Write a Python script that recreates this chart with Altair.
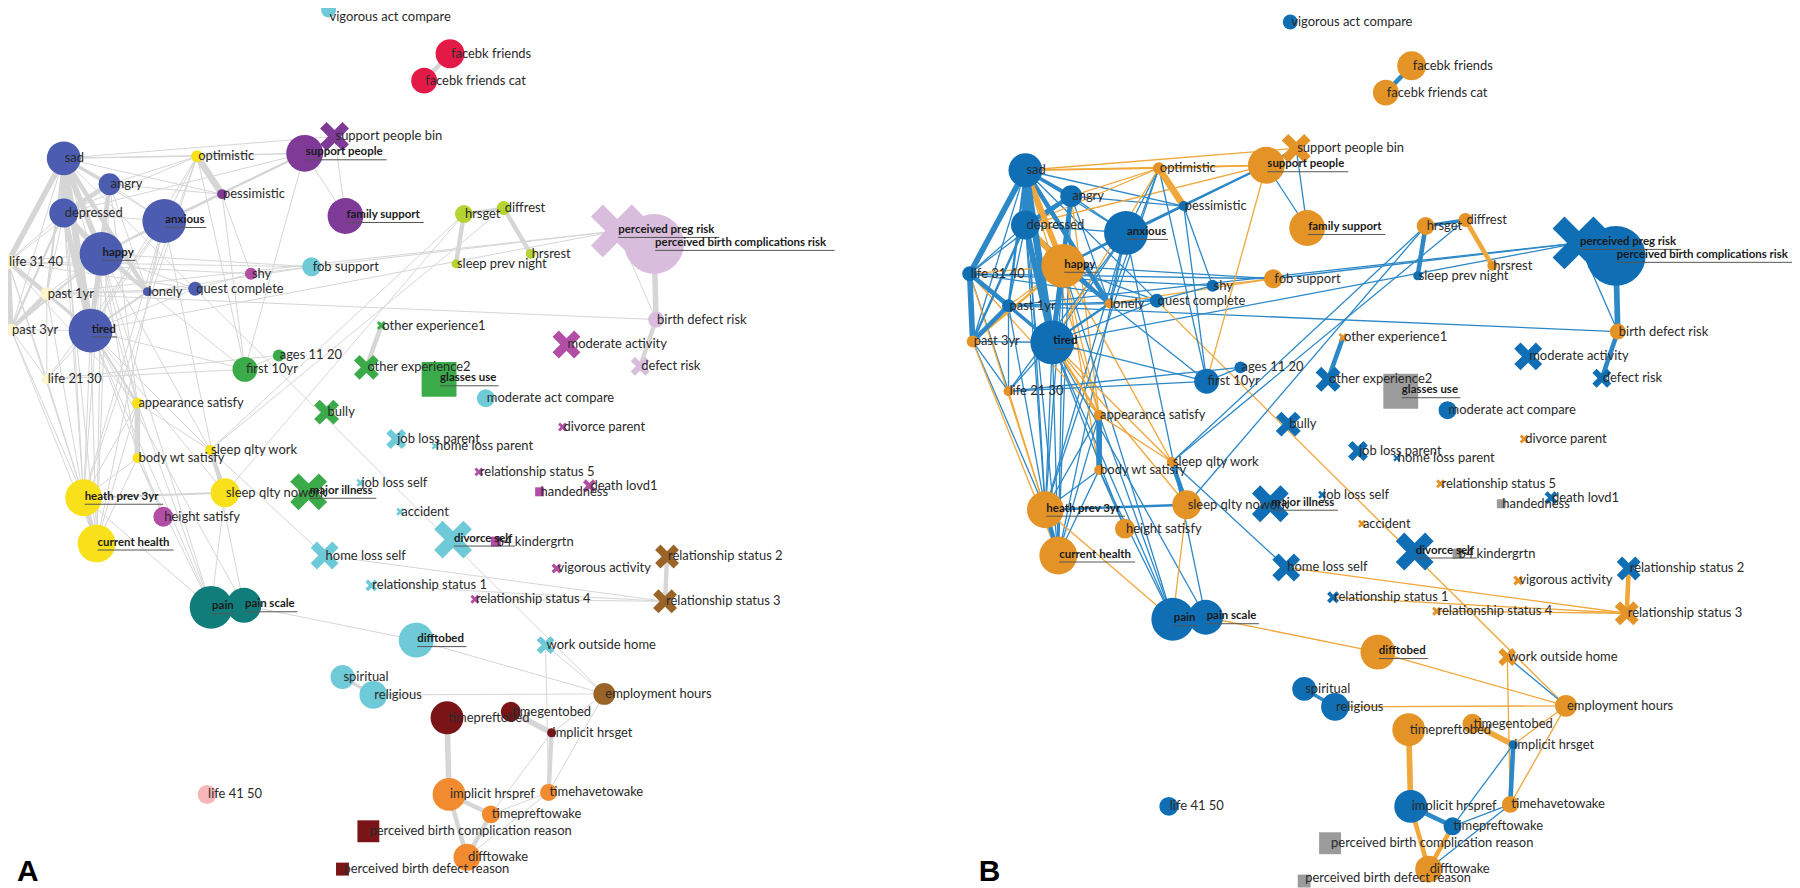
import altair as alt
import pandas as pd

# ---------------- node data (layout coordinates of the network) ----------------
node_name = [
    "vigorous act compare", "facebk friends", "facebk friends cat", "support people bin", "support people",
    "sad", "optimistic", "angry", "pessimistic", "depressed", "anxious", "family support", "happy",
    "life 31 40", "fob support", "shy", "lonely", "quest complete", "past 1yr", "past 3yr", "tired",
    "other experience1", "ages 11 20", "first 10yr", "other experience2", "glasses use", "life 21 30",
    "appearance satisfy", "bully", "hrsget", "diffrest", "hrsrest", "sleep prev night",
    "perceived preg risk", "perceived birth complications risk", "birth defect risk", "moderate activity",
    "defect risk", "moderate act compare", "divorce parent", "job loss parent", "home loss parent",
    "relationship status 5", "death lovd1", "handedness", "major illness", "job loss self", "accident",
    "divorce self", "b4 kindergrtn", "home loss self", "vigorous activity", "relationship status 1",
    "relationship status 4", "relationship status 2", "relationship status 3", "sleep qlty work",
    "body wt satisfy", "sleep qlty nowork", "heath prev 3yr", "height satisfy", "current health", "pain",
    "pain scale", "difftobed", "work outside home", "spiritual", "religious", "employment hours",
    "timepreftobed", "timegentobed", "implicit hrsget", "life 41 50", "implicit hrspref", "timehavetowake",
    "timepreftowake", "difftowake", "perceived birth complication reason", "perceived birth defect reason",
]
layout_x = [
    330, 452, 426, 336, 306,
    64, 198, 110, 223, 64, 165, 347, 102,
    8, 313, 252, 148, 196, 47, 11, 91,
    383, 280, 246, 368, 441, 47,
    138, 328, 466, 506, 533, 458,
    620, 657, 659, 569,
    643, 488, 565, 398, 437,
    481, 592, 542, 310, 362, 402,
    455, 498, 326, 559, 373,
    477, 670, 668, 211,
    138, 226, 84, 164, 97, 212,
    245, 418, 548, 344, 375, 607,
    449, 513, 554, 208, 451, 551,
    493, 469, 370, 344,
]
layout_y = [
    8, 52, 79, 135, 152,
    157, 155, 183, 193, 212, 220, 215, 253,
    261, 266, 273, 291, 288, 293, 329, 330,
    325, 355, 369, 367, 379, 379,
    403, 412, 213, 207, 253, 263,
    230, 243, 319, 344,
    366, 398, 427, 439, 446,
    472, 486, 492, 492, 483, 512,
    540, 542, 556, 569, 586,
    600, 557, 602, 450,
    458, 493, 498, 517, 544, 608,
    606, 641, 646, 678, 696, 695,
    719, 713, 734, 796, 796, 794,
    816, 859, 833, 871,
]
node_weight = [
    15, 29, 26, 29, 37,
    34, 12, 22, 10, 29, 44, 36, 44,
    15, 19, 12, 9, 14, 13, 12, 44,
    9, 12, 25, 25, 35, 10,
    11, 25, 18, 14, 10, 9,
    53, 60, 16, 28,
    19, 18, 9, 20, 7,
    9, 13, 9, 37, 8, 8,
    38, 10, 28, 10, 12,
    9, 24, 24, 10,
    10, 29, 37, 20, 38, 43,
    35, 35, 18, 24, 28, 22,
    33, 20, 9, 19, 33, 17,
    18, 27, 22, 13,
]
node_kind = [
    "c", "c", "c", "x", "c",
    "c", "c", "c", "c", "c", "c", "c", "c",
    "c", "c", "c", "c", "c", "c", "c", "c",
    "x", "c", "c", "x", "s", "c",
    "c", "x", "c", "c", "c", "c",
    "x", "c", "c", "x",
    "x", "c", "x", "x", "x",
    "x", "x", "s", "x", "x", "x",
    "x", "s", "x", "x", "x",
    "x", "x", "x", "c",
    "c", "c", "c", "c", "c", "c",
    "c", "c", "x", "c", "c", "c",
    "c", "c", "c", "c", "c", "c",
    "c", "c", "s", "s",
]
node_community = [
    "lblue", "red", "red", "purple", "purple",
    "blue", "yellow", "blue", "purple", "blue", "blue", "purple", "blue",
    "pale", "lblue", "magenta", "blue", "blue", "pale", "pale", "blue",
    "green", "green", "green", "green", "green", "pale",
    "yellow", "green", "ygreen", "ygreen", "ygreen", "ygreen",
    "lav", "lav", "lav", "magenta",
    "lav", "lblue", "magenta", "lblue", "lblue",
    "magenta", "magenta", "magenta", "green", "lblue", "lblue",
    "lblue", "magenta", "lblue", "magenta", "lblue",
    "magenta", "brown", "brown", "yellow",
    "yellow", "yellow", "yellow", "magenta", "yellow", "teal",
    "teal", "lblue", "lblue", "lblue", "lblue", "brown",
    "dred", "dred", "dred", "pink", "orange", "orange",
    "orange", "orange", "dred", "dred",
]
node_sign = [
    "p", "n", "n", "n", "n",
    "p", "n", "p", "p", "p", "p", "n", "n",
    "p", "n", "p", "n", "p", "p", "n", "p",
    "n", "p", "p", "p", "z", "n",
    "n", "p", "n", "n", "n", "p",
    "p", "p", "n", "p",
    "p", "p", "n", "p", "p",
    "n", "p", "z", "p", "p", "n",
    "p", "z", "p", "n", "p",
    "n", "p", "n", "n",
    "n", "n", "n", "n", "n", "p",
    "p", "n", "n", "p", "p", "n",
    "n", "n", "p", "p", "p", "n",
    "p", "n", "z", "z",
]
key_nodes = [
    "support people", "anxious", "family support", "happy", "tired", "glasses use",
    "perceived preg risk", "perceived birth complications risk", "major illness", "divorce self",
    "heath prev 3yr", "current health", "pain", "pain scale", "difftobed",
]

# ---------------- edges: (source, target, strength, sign) ----------------
edges = [
    ("sad", "depressed", 6, "p"), ("sad", "tired", 6, "p"), ("sad", "life 31 40", 5, "p"),
    ("sad", "happy", 5, "n"), ("sad", "angry", 3, "p"), ("sad", "lonely", 4, "p"),
    ("sad", "past 1yr", 2, "p"), ("sad", "past 3yr", 1, "p"), ("sad", "anxious", 1, "p"),
    ("sad", "pessimistic", 1, "p"), ("sad", "optimistic", 1, "n"), ("sad", "support people", 1, "n"),
    ("sad", "support people bin", 1, "n"), ("sad", "quest complete", 1, "p"),
    ("sad", "appearance satisfy", 1, "n"), ("sad", "heath prev 3yr", 1, "p"),
    ("angry", "depressed", 4, "p"), ("angry", "tired", 4, "p"), ("angry", "happy", 2, "n"),
    ("angry", "anxious", 1, "p"), ("angry", "pessimistic", 1, "p"), ("angry", "optimistic", 1, "n"),
    ("angry", "lonely", 1, "p"), ("angry", "life 31 40", 1, "p"), ("angry", "appearance satisfy", 1, "n"),
    ("angry", "current health", 1, "p"),
    ("depressed", "happy", 5, "n"), ("depressed", "tired", 5, "p"), ("depressed", "life 31 40", 1, "p"),
    ("depressed", "past 1yr", 1, "p"), ("depressed", "past 3yr", 2, "p"), ("depressed", "anxious", 1, "p"),
    ("depressed", "optimistic", 1, "n"), ("depressed", "support people", 1, "n"),
    ("depressed", "lonely", 2, "p"), ("depressed", "heath prev 3yr", 1, "p"),
    ("depressed", "current health", 1, "p"),
    ("anxious", "happy", 2, "p"), ("anxious", "support people", 2, "p"), ("anxious", "pessimistic", 1, "p"),
    ("anxious", "optimistic", 1, "p"), ("anxious", "tired", 1, "p"), ("anxious", "lonely", 1, "p"),
    ("anxious", "heath prev 3yr", 1, "p"), ("anxious", "current health", 1, "p"),
    ("anxious", "life 21 30", 1, "p"), ("anxious", "pain scale", 1, "p"),
    ("happy", "tired", 4, "p"), ("happy", "lonely", 3, "p"), ("happy", "life 31 40", 1, "n"),
    ("happy", "past 1yr", 1, "n"), ("happy", "past 3yr", 2, "n"), ("happy", "quest complete", 1, "p"),
    ("happy", "fob support", 1, "p"), ("happy", "pessimistic", 1, "p"), ("happy", "appearance satisfy", 1, "n"),
    ("happy", "body wt satisfy", 1, "n"), ("happy", "heath prev 3yr", 1, "p"),
    ("happy", "current health", 1, "p"), ("happy", "pain", 1, "p"), ("happy", "sleep qlty work", 1, "n"),
    ("life 31 40", "past 1yr", 4, "p"), ("life 31 40", "past 3yr", 5, "p"), ("life 31 40", "life 21 30", 1, "p"),
    ("life 31 40", "tired", 1, "p"), ("life 31 40", "quest complete", 1, "p"), ("life 31 40", "shy", 1, "p"),
    ("life 31 40", "fob support", 1, "p"), ("life 31 40", "heath prev 3yr", 1, "n"),
    ("life 31 40", "appearance satisfy", 1, "n"),
    ("past 1yr", "past 3yr", 4, "p"), ("past 1yr", "tired", 3, "p"), ("past 1yr", "life 21 30", 1, "p"),
    ("past 1yr", "quest complete", 1, "p"), ("past 1yr", "birth defect risk", 1, "p"),
    ("past 1yr", "perceived preg risk", 1, "p"), ("past 1yr", "lonely", 1, "p"),
    ("past 1yr", "heath prev 3yr", 1, "p"),
    ("past 3yr", "tired", 1, "p"), ("past 3yr", "life 21 30", 1, "p"), ("past 3yr", "heath prev 3yr", 1, "p"),
    ("past 3yr", "current health", 1, "n"),
    ("tired", "lonely", 2, "p"), ("tired", "quest complete", 1, "p"), ("tired", "appearance satisfy", 2, "n"),
    ("tired", "heath prev 3yr", 1, "p"), ("tired", "current health", 1, "p"), ("tired", "pain", 1, "p"),
    ("tired", "pain scale", 1, "p"), ("tired", "sleep qlty work", 1, "n"), ("tired", "sleep qlty nowork", 1, "n"),
    ("tired", "first 10yr", 1, "p"), ("tired", "perceived preg risk", 1, "p"), ("tired", "life 21 30", 1, "p"),
    ("tired", "height satisfy", 1, "p"),
    ("lonely", "quest complete", 1, "p"), ("lonely", "fob support", 1, "n"), ("lonely", "first 10yr", 1, "p"),
    ("quest complete", "shy", 1, "p"), ("quest complete", "employment hours", 1, "n"),
    ("shy", "fob support", 1, "n"), ("shy", "pessimistic", 1, "p"),
    ("optimistic", "pessimistic", 6, "n"), ("optimistic", "support people", 1, "n"),
    ("optimistic", "heath prev 3yr", 1, "p"), ("optimistic", "lonely", 1, "p"), ("optimistic", "tired", 1, "n"),
    ("optimistic", "first 10yr", 1, "p"),
    ("pessimistic", "support people", 1, "p"), ("pessimistic", "first 10yr", 1, "p"),
    ("support people", "family support", 1, "p"), ("support people bin", "family support", 1, "p"),
    ("support people", "support people bin", 2, "p"), ("support people", "first 10yr", 1, "n"),
    ("first 10yr", "ages 11 20", 1, "p"), ("first 10yr", "life 21 30", 1, "p"), ("ages 11 20", "life 21 30", 1, "p"),
    ("life 21 30", "heath prev 3yr", 1, "n"),
    ("fob support", "perceived preg risk", 1, "p"),
    ("appearance satisfy", "body wt satisfy", 5, "p"), ("appearance satisfy", "heath prev 3yr", 1, "p"),
    ("appearance satisfy", "current health", 1, "p"), ("appearance satisfy", "sleep qlty work", 1, "n"),
    ("appearance satisfy", "pain", 1, "p"),
    ("body wt satisfy", "heath prev 3yr", 1, "p"), ("body wt satisfy", "current health", 1, "p"),
    ("body wt satisfy", "pain", 1, "p"), ("body wt satisfy", "height satisfy", 1, "p"),
    ("sleep qlty work", "sleep qlty nowork", 4, "p"), ("sleep qlty work", "hrsget", 1, "p"),
    ("sleep qlty work", "diffrest", 1, "p"), ("sleep qlty work", "home loss self", 1, "p"),
    ("sleep qlty nowork", "hrsget", 1, "p"), ("sleep qlty nowork", "heath prev 3yr", 2, "p"),
    ("sleep qlty nowork", "pain", 1, "n"),
    ("heath prev 3yr", "current health", 4, "p"), ("heath prev 3yr", "pain", 1, "n"),
    ("pain", "pain scale", 3, "p"), ("pain scale", "difftobed", 1, "n"),
    ("difftobed", "employment hours", 1, "n"), ("religious", "employment hours", 1, "n"),
    ("spiritual", "religious", 3, "p"),
    ("work outside home", "employment hours", 1, "p"), ("work outside home", "timehavetowake", 1, "n"),
    ("employment hours", "implicit hrsget", 1, "n"), ("employment hours", "timehavetowake", 1, "n"),
    ("timepreftobed", "implicit hrspref", 5, "n"), ("timegentobed", "implicit hrsget", 5, "n"),
    ("implicit hrsget", "timehavetowake", 4, "p"), ("implicit hrsget", "timepreftowake", 1, "p"),
    ("implicit hrspref", "timepreftowake", 4, "p"), ("implicit hrspref", "difftowake", 4, "n"),
    ("timepreftowake", "difftowake", 4, "n"), ("timehavetowake", "timepreftowake", 1, "p"),
    ("timehavetowake", "difftowake", 1, "p"),
    ("hrsget", "sleep prev night", 4, "p"), ("hrsget", "diffrest", 3, "p"), ("diffrest", "hrsrest", 4, "n"),
    ("perceived birth complications risk", "birth defect risk", 5, "p"),
    ("perceived preg risk", "birth defect risk", 1, "p"), ("birth defect risk", "defect risk", 4, "p"),
    ("facebk friends", "facebk friends cat", 4, "p"), ("other experience1", "other experience2", 4, "p"),
    ("relationship status 2", "relationship status 3", 4, "n"),
    ("relationship status 1", "relationship status 3", 1, "n"),
    ("relationship status 4", "relationship status 3", 1, "n"),
    ("home loss self", "relationship status 3", 1, "n"),
]

panel_letters = ["A", "B"]
panel_shift_x = [0, 966]
panel_shift_y = [0, 12]

# ---------------- styling ----------------
COMMUNITY_COLORS = {
    "blue": "#4B5CB1", "purple": "#7E3A96", "red": "#E31A47", "yellow": "#F8E11B", "pale": "#FBF5CC",
    "magenta": "#B24EA5", "lblue": "#6FCAD8", "green": "#3BAA49", "ygreen": "#B6D334", "lav": "#D8BDDC",
    "teal": "#117D7B", "dred": "#7A1416", "orange": "#F28A30", "brown": "#9A6428", "pink": "#F5B7B8",
}
SIGN_NODE = {"p": "#0F6EB4", "n": "#E49327", "z": "#9B9B9B"}
SIGN_EDGE = {"p": "#2C88C7", "n": "#F0A73B"}
X_PATH = "M-1,-0.55L-0.55,-1L0,-0.45L0.55,-1L1,-0.55L0.45,0L1,0.55L0.55,1L0,0.45L-0.55,1L-1,0.55L-0.45,0Z"
SHAPES = {"c": "circle", "s": "square", "x": X_PATH}

# approximate advance widths (em) of the bold label font, used to size the underlines
BOLD_EM = {
    "a": .51, "b": .56, "c": .45, "d": .56, "e": .52, "f": .33, "g": .50, "h": .56, "i": .25, "j": .25,
    "k": .51, "l": .25, "m": .83, "n": .56, "o": .56, "p": .56, "q": .56, "r": .37, "s": .42, "t": .36,
    "u": .56, "v": .50, "w": .77, "x": .49, "y": .50, "z": .44, " ": .25,
}
BOLD_SIZE = 11.5


def bold_width(label):
    return sum(BOLD_EM.get(ch, 0.58) for ch in label) * BOLD_SIZE * 1.07


pos = {n: (layout_x[i], layout_y[i]) for i, n in enumerate(node_name)}

node_rows, edge_rows, letter_rows = [], [], []
for p, letter in enumerate(panel_letters):
    dx, dy = panel_shift_x[p], panel_shift_y[p]
    for i, n in enumerate(node_name):
        node_rows.append({
            "panel": letter, "name": n,
            "x": layout_x[i] + dx, "y": layout_y[i] + dy,
            "area": node_weight[i] ** 2,
            "shape": SHAPES[node_kind[i]],
            "color": COMMUNITY_COLORS[node_community[i]] if letter == "A" else SIGN_NODE[node_sign[i]],
            "key": n in key_nodes,
            "uw": bold_width(n),
        })
    for s, t, w, sg in sorted(edges, key=lambda e: e[2]):
        edge_rows.append({
            "panel": letter,
            "x": pos[s][0] + dx, "y": pos[s][1] + dy,
            "x2": pos[t][0] + dx, "y2": pos[t][1] + dy,
            "color": "#D6D6D6" if letter == "A" else SIGN_EDGE[sg],
            "sw": (1.0 + 1.15 * (w - 1)) if letter == "A" else (1.3 + 1.1 * (w - 1)),
        })
    letter_rows.append({"letter": letter, "x": 17 + dx, "y": 883})

nodes_df = pd.DataFrame(node_rows)
edges_df = pd.DataFrame(edge_rows)
letters_df = pd.DataFrame(letter_rows)

xs = alt.Scale(domain=[8, 1800], nice=False, zero=False)
ys = alt.Scale(domain=[8, 888], nice=False, zero=False, reverse=True)
X = lambda f: alt.X(f, type="quantitative", scale=xs, axis=None)
Y = lambda f: alt.Y(f, type="quantitative", scale=ys, axis=None)

edge_layer = alt.Chart(edges_df).mark_rule(strokeCap="butt").encode(
    x=X("x"), y=Y("y"), x2="x2:Q", y2="y2:Q",
    color=alt.Color("color:N", scale=None),
    strokeWidth=alt.StrokeWidth("sw:Q", scale=None),
)

node_layer = alt.Chart(nodes_df).mark_point(filled=True, opacity=1, strokeWidth=0).encode(
    x=X("x"), y=Y("y"),
    shape=alt.Shape("shape:N", scale=None),
    size=alt.Size("area:Q", scale=None),
    color=alt.Color("color:N", scale=None),
)

FONT = "Lato"
label_base = alt.Chart(nodes_df).transform_calculate(
    tx="datum.x + 1", ty="min(max(datum.y, 15), 880)"
)
plain_labels = label_base.transform_filter("!datum.key").mark_text(
    align="left", baseline="middle", font=FONT, fontSize=13, color="#2a2a2a"
).encode(x=X("tx"), y=Y("ty"), text="name:N")

key_labels = label_base.transform_filter("datum.key").transform_calculate(tyb="datum.y - 1").mark_text(
    align="left", baseline="middle", font=FONT, fontSize=BOLD_SIZE, fontWeight="bold", color="#1a1a1a"
).encode(x=X("tx"), y=Y("tyb"), text="name:N")

underline = label_base.transform_filter("datum.key").transform_calculate(
    ux2="datum.x + 1 + datum.uw", uy="datum.y + 6.5"
).mark_rule(color="#555555", strokeWidth=1).encode(x=X("tx"), x2="ux2:Q", y=Y("uy"))

letters = alt.Chart(letters_df).mark_text(
    align="left", baseline="alphabetic", font="Liberation Sans", fontSize=30, fontWeight="bold", color="#000000"
).encode(x=X("x"), y=Y("y"), text="letter:N")

chart = alt.layer(edge_layer, node_layer, underline, plain_labels, key_labels, letters).properties(
    width=1792, height=880, padding=0,
    autosize=alt.AutoSizeParams(type="none"),
).configure_view(stroke=None)

chart.save("out.html", embed_options={"renderer": "svg", "actions": False})
